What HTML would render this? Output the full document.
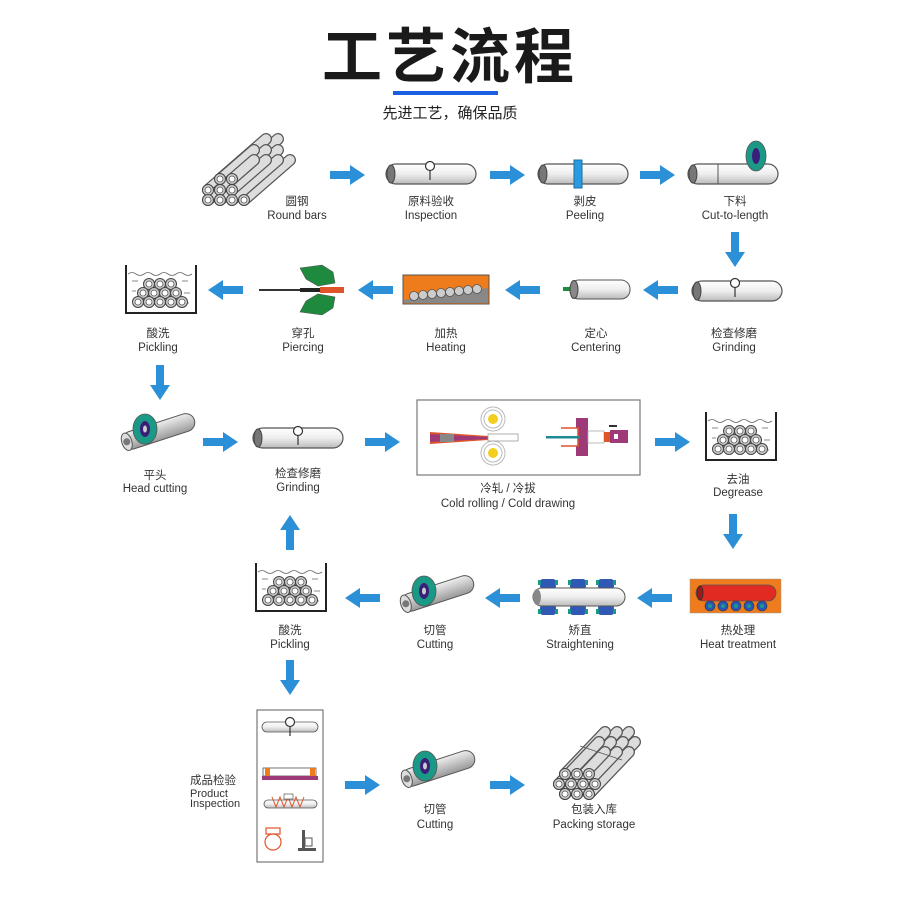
<!DOCTYPE html>
<html><head><meta charset="utf-8"><style>
html,body{margin:0;padding:0;background:#fff;}
svg{display:block}
text{font-family:"Liberation Sans","Noto Sans CJK SC",sans-serif;fill:#333;text-anchor:middle}
.cn{font-size:11.5px}
.en{font-size:11.5px}
</style></head><body>
<svg width="904" height="907" viewBox="0 0 904 907" xmlns="http://www.w3.org/2000/svg">
<defs>
 <linearGradient id="pg" x1="0" y1="0" x2="0" y2="1"><stop offset="0" stop-color="#fff"/><stop offset="0.5" stop-color="#eee"/><stop offset="1" stop-color="#bbb"/></linearGradient>
 <linearGradient id="dg" x1="0" y1="0" x2="0" y2="1"><stop offset="0" stop-color="#eee"/><stop offset="1" stop-color="#999"/></linearGradient>
 <g id="ar"><rect x="0" y="-4" width="22" height="8" fill="#2b90d8"/><polygon points="20,-10 35,0 20,10" fill="#2b90d8"/></g>
 <g id="pipe"><rect x="0" y="0" width="90" height="20" rx="10" fill="url(#pg)" stroke="#555" stroke-width="1.2"/><ellipse cx="5" cy="10" rx="4" ry="9" fill="#777" stroke="#444"/></g>
 <g id="ring"><circle r="5.5" fill="#ccc" stroke="#444" stroke-width="1"/><circle r="3" fill="#fff" stroke="#555" stroke-width="0.8"/></g>
 <g id="rod"><line x1="0" y1="0" x2="46" y2="-40" stroke="#555" stroke-width="12" stroke-linecap="round"/><line x1="0" y1="0" x2="46" y2="-40" stroke="#ddd" stroke-width="9.5" stroke-linecap="round"/></g>
 <g id="rod2"><line x1="0" y1="0" x2="40" y2="-42" stroke="#555" stroke-width="12" stroke-linecap="round"/><line x1="0" y1="0" x2="40" y2="-42" stroke="#ddd" stroke-width="9.5" stroke-linecap="round"/></g>
 <g id="tank">
  <path d="M0 0 V48 H70 V0" fill="none" stroke="#222" stroke-width="2"/>
  <path d="M2 9 q4 -3 8 0 t8 0 t8 0 t8 0 t8 0 t8 0 t8 0 t8 0" fill="none" stroke="#666" stroke-width="0.8"/>
  <g stroke="#888" stroke-width="1"><line x1="6" y1="16" x2="12" y2="16"/><line x1="56" y1="16" x2="62" y2="16"/><line x1="6" y1="26" x2="10" y2="26"/><line x1="58" y1="28" x2="64" y2="28"/><line x1="6" y1="36" x2="11" y2="36"/><line x1="58" y1="38" x2="63" y2="38"/></g>
  <use href="#ring" x="23" y="19"/><use href="#ring" x="34" y="19"/><use href="#ring" x="45" y="19"/>
  <use href="#ring" x="17" y="28"/><use href="#ring" x="28" y="28"/><use href="#ring" x="39" y="28"/><use href="#ring" x="50" y="28"/>
  <use href="#ring" x="12" y="37"/><use href="#ring" x="23" y="37"/><use href="#ring" x="34" y="37"/><use href="#ring" x="45" y="37"/><use href="#ring" x="56" y="37"/>
 </g>
 <g id="cutter">
  <g transform="rotate(-18)"><rect x="0" y="-9" width="75" height="18" rx="9" fill="url(#dg)" stroke="#555"/><ellipse cx="4" cy="0" rx="5" ry="9" fill="#ddd" stroke="#555"/><circle cx="4" cy="0" r="3.5" fill="#777"/></g>
  <ellipse cx="22" cy="-14" rx="12" ry="15" fill="#1a9a86" stroke="#555" stroke-width="0.8"/>
  <ellipse cx="22" cy="-14" rx="5" ry="8" fill="#3a1f7a"/><ellipse cx="22" cy="-14" rx="2" ry="3.5" fill="#ccc"/>
 </g>
 <g id="probe"><line x1="0" y1="0" x2="0" y2="14" stroke="#333" stroke-width="1.2"/><circle cx="0" cy="0" r="4.5" fill="#fff" stroke="#333" stroke-width="1.2"/></g>
</defs>

<!-- title -->
<text x="450" y="78" style="font-size:60px;font-weight:bold;fill:#1a1a1a;letter-spacing:4px;font-family:'Noto Sans CJK SC',sans-serif">工艺流程</text>
<rect x="393" y="91" width="105" height="4" fill="#1a5fe0"/>
<text x="450" y="118" style="font-size:15px;fill:#222">先进工艺，确保品质</text>

<!-- ROW 1 round bars -->
<g>
 <use href="#rod" x="232" y="179"/><use href="#rod" x="220" y="179"/>
 <use href="#rod" x="244" y="200"/><use href="#rod" x="232" y="190"/><use href="#rod" x="220" y="190"/><use href="#rod" x="208" y="190"/>
 <use href="#rod" x="232" y="200"/><use href="#rod" x="220" y="200"/><use href="#rod" x="208" y="200"/>
 <use href="#ring" x="220" y="179"/><use href="#ring" x="232" y="179"/>
 <use href="#ring" x="208" y="190"/><use href="#ring" x="220" y="190"/><use href="#ring" x="232" y="190"/>
 <use href="#ring" x="208" y="200"/><use href="#ring" x="220" y="200"/><use href="#ring" x="232" y="200"/><use href="#ring" x="244" y="200"/>
</g>
<text class="cn" x="297" y="205">圆钢</text><text class="en" x="297" y="219">Round bars</text>
<use href="#ar" x="330" y="175"/>
<use href="#pipe" x="386" y="164"/><use href="#probe" x="430" y="166"/>
<text class="cn" x="431" y="205">原料验收</text><text class="en" x="431" y="219">Inspection</text>
<use href="#ar" x="490" y="175"/>
<use href="#pipe" x="538" y="164"/><rect x="574" y="160" width="8" height="28" fill="#2a9be0" stroke="#1a6fa0"/>
<text class="cn" x="585" y="205">剥皮</text><text class="en" x="585" y="219">Peeling</text>
<use href="#ar" x="640" y="175"/>
<use href="#pipe" x="688" y="164"/><line x1="718" y1="164" x2="718" y2="184" stroke="#555"/>
<ellipse cx="756" cy="156" rx="10" ry="15" fill="#1a9a86" stroke="#555" stroke-width="0.8"/><ellipse cx="756" cy="156" rx="4" ry="8" fill="#3a1f7a"/>
<text class="cn" x="735" y="205">下料</text><text class="en" x="735" y="219">Cut-to-length</text>
<g transform="translate(735,232) rotate(90)"><use href="#ar"/></g>

<!-- ROW 2 -->
<use href="#pipe" x="692" y="281"/><use href="#probe" x="735" y="283"/>
<text class="cn" x="734" y="337">检查修磨</text><text class="en" x="734" y="351">Grinding</text>
<g transform="translate(678,290) rotate(180)"><use href="#ar"/></g>
<rect x="563" y="287" width="10" height="4" fill="#1f8a3a"/>
<rect x="570" y="280" width="60" height="19" rx="9" fill="url(#pg)" stroke="#555"/><ellipse cx="574" cy="289.5" rx="4" ry="9" fill="#888" stroke="#444"/>
<text class="cn" x="596" y="337">定心</text><text class="en" x="596" y="351">Centering</text>
<g transform="translate(540,290) rotate(180)"><use href="#ar"/></g>
<rect x="403" y="275" width="86" height="29" fill="#ee7b1c" stroke="#555"/>
<polygon points="404,303 488,303 488,288 404,300" fill="#888"/>
<g fill="#ccc" stroke="#555" stroke-width="0.8"><circle cx="414" cy="296" r="4.5"/><circle cx="423" cy="295" r="4.5"/><circle cx="432" cy="294" r="4.5"/><circle cx="441" cy="293" r="4.5"/><circle cx="450" cy="292" r="4.5"/><circle cx="459" cy="291" r="4.5"/><circle cx="468" cy="290" r="4.5"/><circle cx="477" cy="289" r="4.5"/></g>
<text class="cn" x="446" y="337">加热</text><text class="en" x="446" y="351">Heating</text>
<g transform="translate(393,290) rotate(180)"><use href="#ar"/></g>
<path d="M300 268 L322 265 L333 272 L335 283 L318 286 L306 279 Z" fill="#1e8a3e" stroke="#555" stroke-width="0.6"/>
<path d="M300 312 L322 315 L333 308 L335 297 L318 294 L306 301 Z" fill="#1e8a3e" stroke="#555" stroke-width="0.6"/>
<rect x="259" y="289" width="42" height="2" fill="#333"/><rect x="300" y="288" width="20" height="4" fill="#222"/><rect x="320" y="287" width="24" height="6" fill="#e0542a"/>
<text class="cn" x="303" y="337">穿孔</text><text class="en" x="303" y="351">Piercing</text>
<g transform="translate(243,290) rotate(180)"><use href="#ar"/></g>
<use href="#tank" x="126" y="265"/>
<text class="cn" x="158" y="337">酸洗</text><text class="en" x="158" y="351">Pickling</text>
<g transform="translate(160,365) rotate(90)"><use href="#ar"/></g>

<!-- ROW 3 -->
<use href="#cutter" x="123" y="443"/>
<text class="cn" x="155" y="479">平头</text><text class="en" x="155" y="492">Head cutting</text>
<use href="#ar" x="203" y="442"/>
<use href="#pipe" x="253" y="428"/><use href="#probe" x="298" y="431"/>
<text class="cn" x="298" y="477">检查修磨</text><text class="en" x="298" y="491">Grinding</text>
<use href="#ar" x="365" y="442"/>
<rect x="417" y="400" width="223" height="75" fill="#fff" stroke="#777" stroke-width="1.2"/>
<g fill="none" stroke="#bbb" stroke-width="1"><circle cx="493" cy="419" r="12"/><circle cx="493" cy="419" r="9"/><circle cx="493" cy="453" r="12"/><circle cx="493" cy="453" r="9"/></g>
<circle cx="493" cy="419" r="5" fill="#f2cf1f"/><circle cx="493" cy="453" r="5" fill="#f2cf1f"/>
<polygon points="430,432 488,436 488,440 430,444" fill="#e0542a"/>
<polygon points="430,434 488,437 488,439 430,442" fill="#9e3a78"/>
<rect x="440" y="434" width="14" height="8" fill="#888"/>
<rect x="488" y="434" width="30" height="7" fill="#fff" stroke="#999" stroke-width="0.8"/>
<rect x="576" y="418" width="12" height="38" fill="#9e3a78"/>
<path d="M561 428 H578 V446 H561" fill="#fff" stroke="#e0542a" stroke-width="1.5"/>
<rect x="546" y="436" width="34" height="2.5" fill="#1d8a95"/>
<rect x="588" y="431" width="16" height="12" fill="#fff" stroke="#aaa" stroke-width="0.8"/>
<rect x="604" y="432" width="8" height="10" fill="#e0542a"/><rect x="610" y="430" width="18" height="13" fill="#9e3a78"/><rect x="614" y="434" width="4" height="5" fill="#fff"/>
<rect x="609" y="425" width="8" height="2" fill="#333"/>
<text class="cn" x="508" y="492">冷轧 / 冷拔</text><text class="en" x="508" y="507">Cold rolling / Cold drawing</text>
<use href="#ar" x="655" y="442"/>
<use href="#tank" x="706" y="412"/>
<text class="cn" x="738" y="483">去油</text><text class="en" x="738" y="496">Degrease</text>
<g transform="translate(733,514) rotate(90)"><use href="#ar"/></g>

<!-- ROW 4 -->
<rect x="690" y="579" width="91" height="34" fill="#ee7b1c" stroke="#999" stroke-width="0.5"/>
<rect x="696" y="585" width="80" height="16" rx="8" fill="#e12a22" stroke="#555" stroke-width="0.8"/><ellipse cx="700" cy="593" rx="3" ry="7" fill="#a01818" stroke="#333"/>
<g fill="#2b56b8" stroke="#333" stroke-width="0.6"><circle cx="710" cy="606" r="5"/><circle cx="723" cy="606" r="5"/><circle cx="736" cy="606" r="5"/><circle cx="749" cy="606" r="5"/><circle cx="762" cy="606" r="5"/></g>
<g fill="#1a9a86"><circle cx="710" cy="606" r="2"/><circle cx="723" cy="606" r="2"/><circle cx="736" cy="606" r="2"/><circle cx="749" cy="606" r="2"/><circle cx="762" cy="606" r="2"/></g>
<text class="cn" x="738" y="634">热处理</text><text class="en" x="738" y="648">Heat treatment</text>
<g transform="translate(672,598) rotate(180)"><use href="#ar"/></g>
<g fill="#2f59b5"><rect x="540" y="579" width="16" height="10" rx="3"/><rect x="570" y="579" width="16" height="10" rx="3"/><rect x="598" y="579" width="16" height="10" rx="3"/><rect x="540" y="605" width="16" height="10" rx="3"/><rect x="570" y="605" width="16" height="10" rx="3"/><rect x="598" y="605" width="16" height="10" rx="3"/></g>
<g fill="#1a9a86"><rect x="538" y="580" width="3" height="5"/><rect x="555" y="580" width="3" height="5"/><rect x="568" y="580" width="3" height="5"/><rect x="585" y="580" width="3" height="5"/><rect x="596" y="580" width="3" height="5"/><rect x="613" y="580" width="3" height="5"/><rect x="538" y="609" width="3" height="5"/><rect x="555" y="609" width="3" height="5"/><rect x="568" y="609" width="3" height="5"/><rect x="585" y="609" width="3" height="5"/><rect x="596" y="609" width="3" height="5"/><rect x="613" y="609" width="3" height="5"/></g>
<rect x="533" y="588" width="92" height="18" rx="9" fill="url(#pg)" stroke="#555"/><ellipse cx="537" cy="597" rx="4" ry="8" fill="#888"/>
<text class="cn" x="580" y="634">矫直</text><text class="en" x="580" y="648">Straightening</text>
<g transform="translate(520,598) rotate(180)"><use href="#ar"/></g>
<use href="#cutter" x="402" y="605"/>
<text class="cn" x="435" y="634">切管</text><text class="en" x="435" y="648">Cutting</text>
<g transform="translate(380,598) rotate(180)"><use href="#ar"/></g>
<use href="#tank" x="256" y="563"/>
<text class="cn" x="290" y="634">酸洗</text><text class="en" x="290" y="648">Pickling</text>
<g transform="translate(290,550) rotate(-90)"><use href="#ar"/></g>
<g transform="translate(290,660) rotate(90)"><use href="#ar"/></g>

<!-- ROW 5 -->
<rect x="257" y="710" width="66" height="152" fill="#fff" stroke="#777" stroke-width="1.2"/>
<rect x="262" y="722" width="56" height="10" rx="5" fill="url(#pg)" stroke="#555" stroke-width="0.8"/><use href="#probe" x="290" y="722"/>
<rect x="263" y="768" width="53" height="8" fill="#fff" stroke="#555" stroke-width="0.8"/><rect x="265" y="768" width="5" height="8" fill="#ee7b1c"/><rect x="310" y="768" width="5" height="8" fill="#ee7b1c"/>
<rect x="262" y="776" width="56" height="4" fill="#9e3a78"/>
<rect x="264" y="800" width="53" height="8" rx="4" fill="url(#pg)" stroke="#555" stroke-width="0.8"/>
<path d="M272 797 l4 10 l4 -10 l4 10 l4 -10 l4 10 l4 -10 l4 10 l4 -10" fill="none" stroke="#e0542a" stroke-width="1"/>
<rect x="284" y="794" width="9" height="5" fill="#fff" stroke="#555" stroke-width="0.7"/>
<circle cx="273" cy="842" r="8" fill="none" stroke="#e0542a" stroke-width="1.2"/>
<rect x="266" y="828" width="14" height="6" fill="none" stroke="#e0542a" stroke-width="1.2"/>
<rect x="302" y="830" width="3" height="20" fill="#555"/><rect x="298" y="848" width="18" height="3" fill="#555"/><rect x="305" y="838" width="7" height="8" fill="none" stroke="#555"/>
<text x="190" y="784" style="font-size:11.5px;text-anchor:start">成品检验</text>
<text x="190" y="797" style="font-size:11px;text-anchor:start">Product</text>
<text x="190" y="807" style="font-size:11px;text-anchor:start">Inspection</text>
<use href="#ar" x="345" y="785"/>
<use href="#cutter" x="403" y="780"/>
<text class="cn" x="435" y="813">切管</text><text class="en" x="435" y="828">Cutting</text>
<use href="#ar" x="490" y="785"/>
<g>
 <use href="#rod2" x="589" y="774"/><use href="#rod2" x="577" y="774"/><use href="#rod2" x="565" y="774"/>
 <use href="#rod2" x="595" y="784"/><use href="#rod2" x="583" y="784"/><use href="#rod2" x="571" y="784"/><use href="#rod2" x="559" y="784"/>
 <use href="#rod2" x="589" y="794"/><use href="#rod2" x="577" y="794"/><use href="#rod2" x="565" y="794"/>
 <line x1="580" y1="746" x2="622" y2="760" stroke="#555" stroke-width="0.8"/>
 <use href="#ring" x="565" y="774"/><use href="#ring" x="577" y="774"/><use href="#ring" x="589" y="774"/>
 <use href="#ring" x="559" y="784"/><use href="#ring" x="571" y="784"/><use href="#ring" x="583" y="784"/><use href="#ring" x="595" y="784"/>
 <use href="#ring" x="565" y="794"/><use href="#ring" x="577" y="794"/><use href="#ring" x="589" y="794"/>
</g>
<text class="cn" x="594" y="813">包装入库</text><text class="en" x="594" y="828">Packing storage</text>
</svg>
</body></html>
